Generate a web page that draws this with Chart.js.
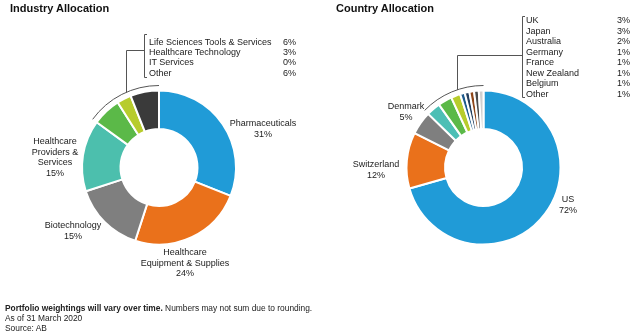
<!DOCTYPE html>
<html><head><meta charset="utf-8">
<script src="https://cdn.jsdelivr.net/npm/chart.js@4/dist/chart.umd.min.js"></script>
<style>
html,body{margin:0;padding:0;background:#fff;}
#wrap{position:relative;width:634px;height:335px;overflow:hidden;font-family:"Liberation Sans",Arial,sans-serif;color:#222;}
.box{position:absolute;top:0;height:335px;}
.t{position:absolute;font-size:11px;font-weight:bold;color:#111;white-space:nowrap;}
.lbl{position:absolute;font-size:9px;line-height:10.5px;text-align:center;transform:translateX(-50%);white-space:nowrap;}
.row{position:absolute;font-size:9px;line-height:10.5px;white-space:nowrap;}
.foot{position:absolute;left:5px;font-size:8.4px;line-height:10px;white-space:nowrap;color:#222;}
</style></head>
<body><div id="wrap">
<div class="box" style="left:0;width:318px"><canvas id="c1"></canvas></div>
<div class="box" style="left:317px;width:317px"><canvas id="c2"></canvas></div>
<div class="t" style="left:10px;top:2px">Industry Allocation</div>
<div class="t" style="left:336px;top:2px">Country Allocation</div>
<div class="foot" style="top:303px"><b>Portfolio weightings will vary over time.</b> Numbers may not sum due to rounding.<br>As of 31 March 2020<br>Source: AB</div>
</div>
<script>
const industryLabels = ['Pharmaceuticals','Healthcare Equipment & Supplies','Biotechnology','Healthcare Providers & Services','Life Sciences Tools & Services','Healthcare Technology','IT Services','Other'];
const industryValues = [31,24,15,15,6,3,0,6];
const industryColors = ['#209bd7','#ea711b','#7f7f7f','#4cbfad','#5bb948','#b7cc2c','#2a6f8f','#3a3a3a'];
const industryMain = ['Pharmaceuticals','Healthcare<br>Equipment & Supplies','Biotechnology','Healthcare<br>Providers &<br>Services'];

const countryLabels = ['US','Switzerland','Denmark','UK','Japan','Australia','Germany','France','New Zealand','Belgium','Other'];
const countryValues = [72,12,5,3,3,2,1,1,1,1,1];
const countryColors = ['#209bd7','#ea711b','#7f7f7f','#4cbfb5','#5bb948','#b7cc2c','#1e5b8c','#243f5e','#8e4619','#4a4a4a','#cfcfcf'];
const countryMain = ['US','Switzerland','Denmark'];

const wrap = document.getElementById('wrap');
function addDiv(cls, x, y, html){
  const d = document.createElement('div'); d.className = cls;
  d.style.left = x + 'px'; d.style.top = y + 'px'; d.innerHTML = html;
  wrap.appendChild(d);
}
// main slice labels (layout positions)
const indPos = [[263,118],[185,247],[73,220],[55,136]];
industryMain.forEach((t,i)=>addDiv('lbl', indPos[i][0], indPos[i][1], t + '<br>' + industryValues[i] + '%'));
const ctyPos = [[568,194],[376,159],[406,101]];
countryMain.forEach((t,i)=>addDiv('lbl', ctyPos[i][0], ctyPos[i][1], t + '<br>' + countryValues[i] + '%'));
// callout lists
for (let i = 4; i < industryLabels.length; i++) {
  const y = 36.5 + (i-4)*10.4;
  addDiv('row', 149, y, industryLabels[i]);
  addDiv('row', 283, y, industryValues[i] + '%');
}
for (let i = 3; i < countryLabels.length; i++) {
  const y = 15 + (i-3)*10.5;
  addDiv('row', 526, y, countryLabels[i]);
  addDiv('row', 617, y, countryValues[i] + '%');
}

function bracketPlugin(first, lineX, lineY, brX, brTop, brBot){
  return {
    id: 'bracket',
    afterDraw(chart){
      const meta = chart.getDatasetMeta(0);
      const a = meta.data[first];
      const cx = a.x, cy = a.y, r = a.outerRadius + 5;
      const ctx = chart.ctx;
      ctx.save();
      ctx.strokeStyle = '#555'; ctx.lineWidth = 1;
      ctx.beginPath();
      ctx.arc(cx, cy, r, a.startAngle, -Math.PI/2 + 2*Math.PI);
      ctx.stroke();
      const dx = lineX - cx;
      const yArc = cy - Math.sqrt(r*r - dx*dx);
      ctx.beginPath();
      ctx.moveTo(lineX + 0.5, yArc);
      ctx.lineTo(lineX + 0.5, lineY + 0.5);
      ctx.lineTo(brX + 0.5, lineY + 0.5);
      ctx.stroke();
      ctx.beginPath();
      ctx.moveTo(brX + 3, brTop + 0.5);
      ctx.lineTo(brX + 0.5, brTop + 0.5);
      ctx.lineTo(brX + 0.5, brBot + 0.5);
      ctx.lineTo(brX + 3, brBot + 0.5);
      ctx.stroke();
      ctx.restore();
    }
  };
}

function makeChart(id, labels, values, colors, padLeft, plugin){
  return new Chart(document.getElementById(id), {
    type: 'doughnut',
    data: { labels, datasets: [{ data: values, backgroundColor: colors, borderColor: '#fff', borderWidth: 2, hoverOffset: 0, offset: 0 }] },
    options: {
      responsive: true, maintainAspectRatio: false, animation: false,
      radius: 77, cutout: '50%',
      layout: { padding: { left: padLeft } },
      plugins: { legend: { display: false }, tooltip: { enabled: false } },
      events: []
    },
    plugins: [plugin]
  });
}
makeChart('c1', industryLabels, industryValues, industryColors, 0, bracketPlugin(4, 126, 50, 144, 34, 77));
makeChart('c2', countryLabels, countryValues, countryColors, 16, bracketPlugin(3, 140, 55, 205, 16, 97));
</script>
</body></html>
